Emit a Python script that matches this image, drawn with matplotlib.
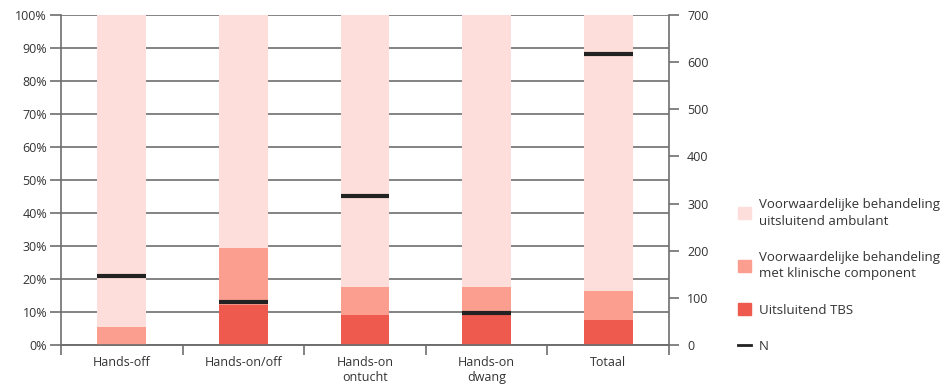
import matplotlib
matplotlib.use('Agg')
import matplotlib.pyplot as plt
from matplotlib.patches import Patch
from matplotlib.lines import Line2D
import numpy as np

plt.rcParams['font.family'] = ['Open Sans', 'DejaVu Sans']

categories = ['Hands-off', 'Hands-on/off', 'Hands-on\nontucht', 'Hands-on\ndwang', 'Totaal']
tbs = [0.0, 12.0, 9.2, 9.0, 7.5]                 # Uitsluitend TBS (%)
klinisch = [5.5, 17.5, 8.3, 8.6, 8.9]            # met klinische component (%)
ambulant = [94.5, 70.5, 82.5, 82.4, 83.6]        # uitsluitend ambulant (%)
n_values = [146, 91, 316, 68, 617]               # N (right axis)

c_light = '#fddeda'
c_mid = '#fb9e90'
c_dark = '#ef5a4f'
grid_c = '#6e6e6e'
text_c = '#333333'

fig = plt.figure(figsize=(9.53, 3.89), dpi=100)
ax1 = fig.add_axes([61/953, 44/389, 608/953, 330/389])
ax2 = ax1.twinx()

x = np.arange(len(categories))
w = 0.4
b1 = np.array(tbs)
b2 = b1 + np.array(klinisch)
ax1.bar(x, tbs, w, color=c_dark, zorder=3)
ax1.bar(x, klinisch, w, bottom=b1, color=c_mid, zorder=3)
ax1.bar(x, ambulant, w, bottom=b2, color=c_light, zorder=3)

ax1.set_xlim(-0.5, len(categories) - 0.5)
ax1.set_ylim(0, 100)
ax1.set_yticks(np.arange(0, 101, 10))
ax1.set_yticklabels([f'{v}%' for v in range(0, 101, 10)])
ax1.yaxis.grid(True, color=grid_c, lw=1.2, zorder=0)
ax1.set_axisbelow(True)

ax1.set_xticks(x)
ax1.set_xticklabels(categories)
ax1.set_xticks(np.arange(-0.5, len(categories)), minor=True)
ax1.tick_params(axis='x', which='major', length=0, pad=8, labelsize=9, colors=text_c)
ax1.tick_params(axis='x', which='minor', length=7, width=1.2, color=grid_c)
ax1.tick_params(axis='y', length=8, width=1.2, color=grid_c, labelsize=9,
                labelcolor=text_c, pad=2)

ax2.set_ylim(0, 700)
ax2.set_yticks(np.arange(0, 701, 100))
ax2.tick_params(axis='y', length=7, width=1.2, color=grid_c, labelsize=9,
                labelcolor=text_c, pad=6)
ax2.hlines(n_values, x - w/2, x + w/2, color='#222222', lw=3, zorder=5)

for a in (ax1, ax2):
    a.spines['top'].set_visible(False)
    a.spines['right'].set_visible(False)
    a.spines['left'].set_visible(False)
    a.spines['bottom'].set_color(grid_c)
    a.spines['bottom'].set_linewidth(1.2)
ax1.spines['left'].set_visible(True)
ax1.spines['left'].set_color(grid_c)
ax1.spines['left'].set_linewidth(1.2)
ax2.spines['right'].set_visible(True)
ax2.spines['right'].set_color(grid_c)
ax2.spines['right'].set_linewidth(1.2)

handles = [
    Patch(color=c_light, label='Voorwaardelijke behandeling\nuitsluitend ambulant'),
    Patch(color=c_mid, label='Voorwaardelijke behandeling\nmet klinische component'),
    Patch(color=c_dark, label='Uitsluitend TBS'),
    Line2D([], [], color='#222222', lw=2, label='N'),
]
leg = fig.legend(handles=handles, loc='lower left', bbox_to_anchor=(726/953, 24/389),
                 frameon=False, fontsize=9.5, handlelength=1.0, handleheight=1.0,
                 handletextpad=0.6, labelspacing=1.75, labelcolor=text_c)
for t in leg.get_texts():
    t.set_linespacing(1.35)

fig.savefig('out.png', dpi=100)
